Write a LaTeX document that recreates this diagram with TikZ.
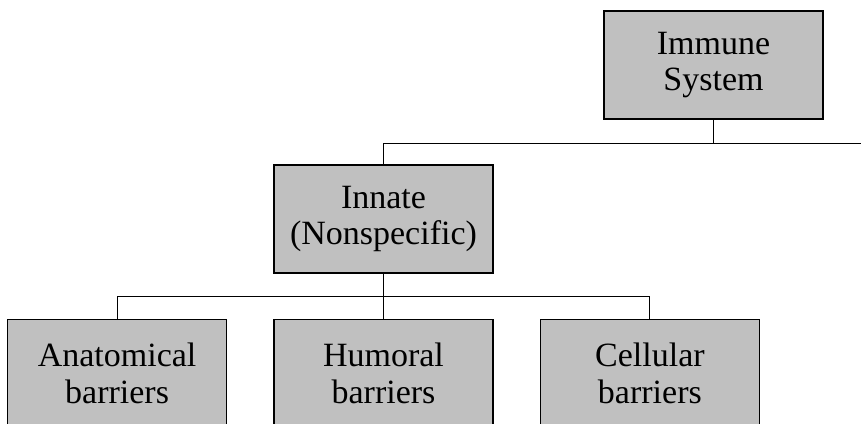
\documentclass[tikz,border=0pt]{standalone}
\usepackage{fontspec}
\setmainfont{Liberation Serif}[Ligatures=NoCommon]
\usetikzlibrary{positioning}
\definecolor{boxgray}{RGB}{192,192,192}

\begin{document}
\begin{tikzpicture}[
    x=0.5pt, y=-0.5pt,
    font={\fontsize{17}{18.4}\selectfont},
    box/.style={
      rectangle, draw, line width=0.7pt, align=center,
      minimum width=109.5pt, minimum height=54pt,
      inner sep=1pt, fill=boxgray
    },
    link/.style={line width=0.5pt}
  ]
    % Page frame (the bottom row is cut off by the lower edge)
    \clip (0,0) rectangle (861,423);

    % Root and first level
    \node[box] (immune) at (713.5,65) {Immune\\System};
    \node[box] (innate) at (383.5,219) {Innate\\(Nonspecific)};

    % Barriers row
    \node[box, below=22.5pt of innate] (humoral) {Humoral\\barriers};
    \node[box, left=23pt of humoral] (anat) {Anatomical\\barriers};
    \node[box, right=23pt of humoral] (cell) {Cellular\\barriers};

    % Root bus, running on past the right edge
    \coordinate (adapt) at (861,143);
    \draw[link] (immune.south) -- (immune.south |- adapt);
    \draw[link] (innate.north) |- (adapt);

    % Innate -> barriers
    \coordinate (rowbus) at ([yshift=-11.5pt]innate.south);
    \draw[link] (innate.south) -- (humoral.north);
    \draw[link] (anat.north) |- (rowbus) -| (cell.north);
  \end{tikzpicture}
\end{document}
